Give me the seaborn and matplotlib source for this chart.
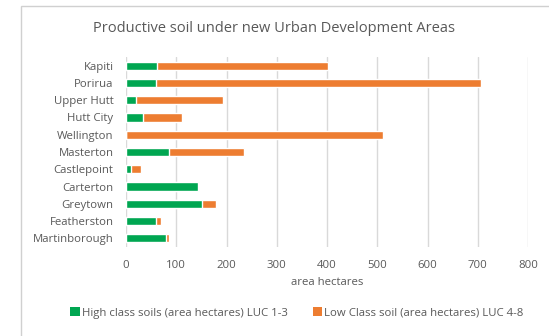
import matplotlib
matplotlib.use("Agg")
import matplotlib.pyplot as plt
import seaborn as sns
import pandas as pd
import numpy as np
from matplotlib.patches import Rectangle, Patch

areas = ["Kapiti", "Porirua", "Upper Hutt", "Hutt City", "Wellington", "Masterton",
         "Castlepoint", "Carterton", "Greytown", "Featherston", "Martinborough"]
high_class = [62, 59, 20, 34, 0, 86, 10, 143, 152, 59, 80]
low_class = [339, 647, 173, 78, 512, 148, 20, 3, 28, 11, 6]
x_ticks = [0, 100, 200, 300, 400, 500, 600, 700, 800]

GREEN = "#00A651"
ORANGE = "#ED7D31"
TEXT = "#595959"
GRID = "#D9D9D9"

df = pd.DataFrame({"area": areas, "high": high_class, "low": low_class})
df["total"] = df["high"] + df["low"]

sns.set_theme(style="white")
plt.rcParams["font.family"] = ["Open Sans", "DejaVu Sans"]

fig = plt.figure(figsize=(5.49, 3.36), dpi=100)
fig.patches.append(Rectangle((21 / 549, -0.1), 1.2, 1 - 6 / 336 + 0.1, transform=fig.transFigure,
                             fill=False, edgecolor="#D0D0D0", linewidth=1.0, zorder=0))
ax = fig.add_axes([126 / 549, 1 - 247 / 336, (528 - 126) / 549, 190 / 336])

# stacked bars: total length in orange, high-class share overlaid in green
sns.barplot(data=df, y="area", x="total", color=ORANGE, orient="h", width=0.47,
            saturation=1, ax=ax, zorder=3)
sns.barplot(data=df, y="area", x="high", color=GREEN, orient="h", width=0.47,
            saturation=1, ax=ax, zorder=4)

ax.set_xlim(0, 800)
ax.set_ylim(len(areas) - 0.5, -0.5)
ax.set_xticks(x_ticks)
ax.set_xticklabels([str(t) for t in x_ticks])
ax.xaxis.grid(True, color=GRID, linewidth=1.0, zorder=0)
ax.set_axisbelow(True)
for s in ax.spines.values():
    s.set_visible(False)
ax.tick_params(axis="both", length=0, colors=TEXT, labelsize=8.2)
ax.tick_params(axis="x", pad=9)
ax.tick_params(axis="y", pad=9)
ax.set_ylabel("")
ax.set_xlabel("area hectares", color=TEXT, fontsize=8.2, labelpad=5)

fig.text(0.5 * (93 + 455) / 549, 1 - 29 / 336, "Productive soil under new Urban Development Areas",
         ha="center", va="center", color=TEXT, fontsize=10.5)

handles = [Patch(facecolor=GREEN, edgecolor="none"), Patch(facecolor=ORANGE, edgecolor="none")]
labels = ["High class soils (area hectares) LUC 1-3", "Low Class soil (area hectares) LUC 4-8"]
leg = fig.legend(handles, labels, loc="center", bbox_to_anchor=(297 / 549, 1 - 313 / 336),
                 ncol=2, frameon=False, fontsize=8.2, handlelength=0.8, handleheight=0.8,
                 handletextpad=0.2, columnspacing=2.2, labelcolor=TEXT)

fig.savefig("out.png", dpi=100)
